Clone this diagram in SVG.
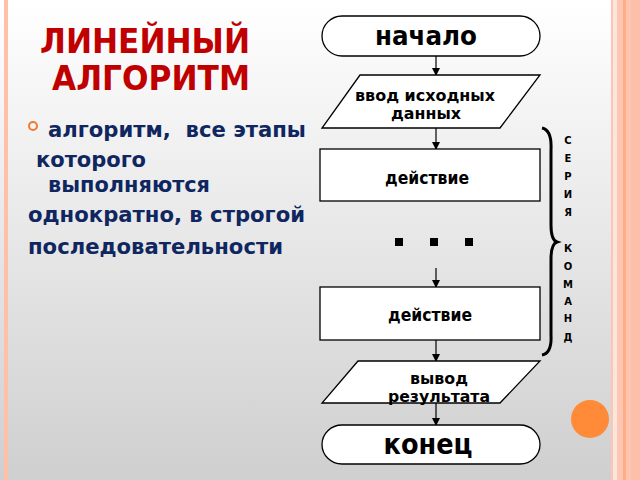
<svg xmlns="http://www.w3.org/2000/svg" width="640" height="480" viewBox="0 0 640 480">
<defs>
<linearGradient id="bg" x1="0" y1="0" x2="0" y2="1">
<stop offset="0" stop-color="#ffffff"/>
<stop offset="1" stop-color="#cfcfcf"/>
</linearGradient>
<marker id="arr" markerWidth="8" markerHeight="8" refX="7" refY="4" orient="auto" markerUnits="userSpaceOnUse">
<path d="M0,0 L8,4 L0,8 z" fill="#000"/>
</marker>
<style>
.shape{fill:#fff;stroke:#000;stroke-width:1.3}
.lbl{font-family:"DejaVu Sans",sans-serif;font-weight:bold;fill:#000;text-anchor:middle}
.body{font-family:"DejaVu Sans",sans-serif;font-weight:bold;fill:#0f2660;font-size:21px}
.title{font-family:"DejaVu Sans",sans-serif;font-weight:bold;fill:#c00000;font-size:33px}
.vert{font-family:"DejaVu Sans",sans-serif;font-weight:bold;fill:#000;font-size:10px;text-anchor:middle}
.conn line{stroke:#000;stroke-width:1.2;marker-end:url(#arr)}
</style>
</defs>
<rect x="0" y="0" width="640" height="480" fill="url(#bg)"/>
<rect x="4" y="0" width="4" height="480" fill="#ffbfa8"/>
<rect x="611" y="0" width="29" height="480" fill="#fcc6b2"/>
<rect x="613" y="0" width="4" height="480" fill="#fbe6de"/>
<rect x="623" y="0" width="3" height="480" fill="#ffad82"/>
<rect x="631" y="0" width="9" height="480" fill="#fcc0aa"/>

<g id="title">
<text class="title" x="40" y="53" textLength="210" lengthAdjust="spacingAndGlyphs">ЛИНЕЙНЫЙ</text>
<text class="title" x="52" y="90" textLength="198" lengthAdjust="spacingAndGlyphs">АЛГОРИТМ</text>
</g>
<g id="definition">
<circle cx="33" cy="126" r="4" fill="none" stroke="#f07a30" stroke-width="2"/>
<text class="body" x="48" y="137" textLength="258" lengthAdjust="spacingAndGlyphs">алгоритм,&#160; все этапы</text>
<text class="body" x="36" y="167" textLength="110" lengthAdjust="spacingAndGlyphs">которого</text>
<text class="body" x="48" y="192" textLength="162" lengthAdjust="spacingAndGlyphs">выполняются</text>
<text class="body" x="28" y="222" textLength="277" lengthAdjust="spacingAndGlyphs">однократно, в строгой</text>
<text class="body" x="28" y="254" textLength="255" lengthAdjust="spacingAndGlyphs">последовательности</text>
</g>

<g class="conn" id="connectors">
<line x1="436" y1="56" x2="436" y2="75"/>
<line x1="436" y1="128" x2="436" y2="149"/>
<line x1="436" y1="268" x2="436" y2="287"/>
<line x1="436" y1="340" x2="436" y2="361"/>
<line x1="436" y1="403" x2="436" y2="425"/>
</g>

<g id="start">
<rect class="shape" x="322" y="16" width="218" height="40" rx="20" ry="20"/>
<text class="lbl" x="426" y="45" font-size="26" textLength="102" lengthAdjust="spacingAndGlyphs">начало</text>
</g>
<g id="input">
<polygon class="shape" points="360,75 540,75 500,128 322,128"/>
<text class="lbl" x="425" y="101" font-size="16" textLength="140" lengthAdjust="spacingAndGlyphs">ввод исходных</text>
<text class="lbl" x="426" y="119" font-size="16" textLength="70" lengthAdjust="spacingAndGlyphs">данных</text>
</g>
<g id="action1">
<rect class="shape" x="320" y="149" width="220" height="52"/>
<text class="lbl" x="427" y="184" font-size="17" textLength="84" lengthAdjust="spacingAndGlyphs">действие</text>
</g>
<g id="dots">
<rect x="395" y="238" width="8" height="8" fill="#000"/>
<rect x="430" y="238" width="8" height="8" fill="#000"/>
<rect x="465" y="238" width="8" height="8" fill="#000"/>
</g>
<g id="action2">
<rect class="shape" x="320" y="287" width="220" height="53"/>
<text class="lbl" x="430" y="321" font-size="17" textLength="84" lengthAdjust="spacingAndGlyphs">действие</text>
</g>
<g id="output">
<polygon class="shape" points="358,361 540,361 500,403 322,403"/>
<text class="lbl" x="439" y="384" font-size="16" textLength="58" lengthAdjust="spacingAndGlyphs">вывод</text>
<text class="lbl" x="439" y="402" font-size="16" textLength="102" lengthAdjust="spacingAndGlyphs">результата</text>
</g>
<g id="end">
<rect class="shape" x="322" y="425" width="218" height="39" rx="20" ry="19.5"/>
<text class="lbl" x="428" y="454" font-size="28" textLength="89" lengthAdjust="spacingAndGlyphs">конец</text>
</g>

<g id="brace">
<path d="M542,128 Q552,130 551,150 L551,225 Q551,240 557,242 Q551,244 551,259 L551,335 Q552,353 542,355" fill="none" stroke="#000" stroke-width="3"/>
<text class="vert" x="568" y="144">С</text>
<text class="vert" x="568" y="162">Е</text>
<text class="vert" x="568" y="180">Р</text>
<text class="vert" x="568" y="198">И</text>
<text class="vert" x="568" y="216">Я</text>
<text class="vert" x="568" y="252">К</text>
<text class="vert" x="568" y="270">О</text>
<text class="vert" x="568" y="288">М</text>
<text class="vert" x="568" y="305">А</text>
<text class="vert" x="568" y="322">Н</text>
<text class="vert" x="568" y="341">Д</text>
</g>
<circle cx="590" cy="419" r="19" fill="#ff8a38"/>
</svg>
